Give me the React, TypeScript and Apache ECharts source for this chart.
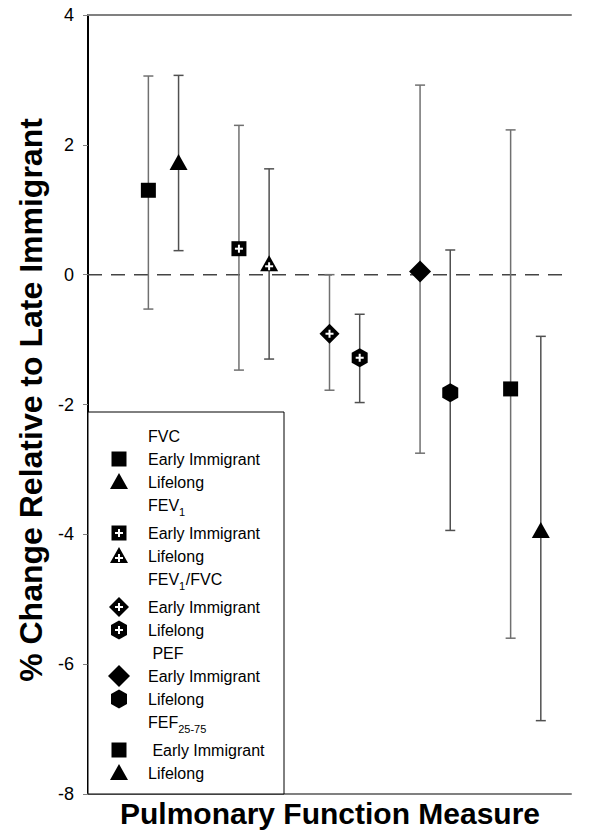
import React, { useEffect, useRef } from 'react';
import * as echarts from 'echarts';

// ---------- data ----------
const measures = ['FVC', 'FEV1', 'FEV1/FVC', 'PEF', 'FEF25-75'];
const groups = ['Early Immigrant', 'Lifelong'];
const earlyMean = [1.30, 0.40, -0.91, 0.05, -1.76];
const earlyLow = [-0.53, -1.47, -1.78, -2.75, -5.60];
const earlyHigh = [3.06, 2.30, 0.00, 2.92, 2.23];
const lifeMean = [1.72, 0.16, -1.28, -1.82, -3.95];
const lifeLow = [0.37, -1.30, -1.97, -3.94, -6.87];
const lifeHigh = [3.07, 1.63, -0.61, 0.38, -0.95];
const yMin = -8;
const yMax = 4;
const yStep = 2;
const earlyShapes = ['square', 'squarePlus', 'diamondPlus', 'diamond', 'square'];
const lifeShapes = ['triangle', 'trianglePlus', 'hexagonPlus', 'hexagon', 'triangle'];

// legend rows: header (with optional subscript) or item with a symbol
const legendRows: any[] = [
  { parts: [['FVC', false]] },
  { shape: 'square', text: 'Early Immigrant' },
  { shape: 'triangle', text: 'Lifelong' },
  { parts: [['FEV', false], ['1', true]], gapAfter: true },
  { shape: 'squarePlus', text: 'Early Immigrant' },
  { shape: 'trianglePlus', text: 'Lifelong' },
  { parts: [['FEV', false], ['1', true], ['/FVC', false]], gapAfter: true },
  { shape: 'diamondPlus', text: 'Early Immigrant' },
  { shape: 'hexagonPlus', text: 'Lifelong' },
  { parts: [[' PEF', false]] },
  { shape: 'diamond', text: 'Early Immigrant' },
  { shape: 'hexagon', text: 'Lifelong' },
  { parts: [['FEF', false], ['25-75', true]], gapAfter: true },
  { shape: 'square', text: ' Early Immigrant' },
  { shape: 'triangle', text: 'Lifelong' },
];

const FONT = '"Liberation Sans", Arial, Helvetica, sans-serif';

function shapeEls(kind: string, cx: number, cy: number, z?: number): any[] {
  const els: any[] = [];
  const fill = '#000';
  const base = kind.replace('Plus', '');
  const plus = kind.endsWith('Plus');
  let pcy = cy;
  if (base === 'square') {
    els.push({ type: 'rect', shape: { x: cx - 7.5, y: cy - 7.5, width: 15, height: 15 }, style: { fill } });
  } else if (base === 'triangle') {
    els.push({ type: 'polygon', shape: { points: [[cx, cy - 9], [cx + 9, cy + 7], [cx - 9, cy + 7]] }, style: { fill } });
    pcy = cy + 2;
  } else if (base === 'diamond') {
    const r = plus ? 10 : 11;
    els.push({ type: 'polygon', shape: { points: [[cx, cy - r], [cx + r, cy], [cx, cy + r], [cx - r, cy]] }, style: { fill } });
  } else if (base === 'hexagon') {
    els.push({
      type: 'polygon',
      shape: { points: [[cx, cy - 9.5], [cx + 8, cy - 5], [cx + 8, cy + 5], [cx, cy + 9.5], [cx - 8, cy + 5], [cx - 8, cy - 5]] },
      style: { fill },
    });
  }
  if (plus) {
    els.push({ type: 'rect', shape: { x: cx - 4, y: pcy - 1, width: 8, height: 2 }, style: { fill: '#fff' } });
    els.push({ type: 'rect', shape: { x: cx - 1, y: pcy - 4, width: 2, height: 8 }, style: { fill: '#fff' } });
  }
  if (z !== undefined) els.forEach((e) => (e.z = z));
  return els;
}

function measureText(t: string, size: number): number {
  const c = document.createElement('canvas');
  const ctx = c.getContext('2d')!;
  ctx.font = `${size}px ${FONT}`;
  return ctx.measureText(t).width;
}

function makeRender(shapes: string[], color: string) {
  return (params: any, api: any) => {
    const x = api.value(0);
    const y = api.value(1);
    const lo = api.value(2);
    const hi = api.value(3);
    const m = api.value(4);
    const p = api.coord([x, y]);
    const pl = api.coord([x, lo]);
    const ph = api.coord([x, hi]);
    const ls = { stroke: color, lineWidth: 1.5 };
    const children: any[] = [
      { type: 'line', shape: { x1: ph[0], y1: ph[1], x2: pl[0], y2: pl[1] }, style: ls },
      { type: 'line', shape: { x1: ph[0] - 5, y1: ph[1], x2: ph[0] + 5, y2: ph[1] }, style: ls },
      { type: 'line', shape: { x1: pl[0] - 5, y1: pl[1], x2: pl[0] + 5, y2: pl[1] }, style: ls },
      ...shapeEls(shapes[m], p[0], p[1]),
    ];
    return { type: 'group', children };
  };
}

export default function App() {
  const ref = useRef<HTMLDivElement>(null);
  useEffect(() => {
    if (!ref.current) return;
    const chart = echarts.init(ref.current, undefined, { renderer: 'svg' });
    const xMax = measures.length + 1 / 3;
    const earlyData = measures.map((_, m) => [m + 2 / 3, earlyMean[m], earlyLow[m], earlyHigh[m], m]);
    const lifeData = measures.map((_, m) => [m + 1, lifeMean[m], lifeLow[m], lifeHigh[m], m]);

    // legend graphics
    const graphics: any[] = [];
    const boxTop = 412;
    graphics.push({
      type: 'rect',
      z: 100,
      shape: { x: 88, y: boxTop, width: 196, height: 382 },
      style: { fill: '#fff', stroke: '#000', lineWidth: 1 },
    });
    let extra = 0;
    legendRows.forEach((row, i) => {
      const y = 436 + i * 23 + extra;
      if (row.parts) {
        let x = 148;
        row.parts.forEach(([t, sub]: [string, boolean]) => {
          const size = sub ? 11 : 16;
          graphics.push({
            type: 'text',
            z: 101,
            x,
            y: sub ? y + 7 : y,
            style: { text: t, font: `${size}px ${FONT}`, fill: '#000', verticalAlign: 'middle' },
          });
          x += measureText(t, size) + (sub ? 0.5 : 0);
        });
      } else {
        graphics.push(...shapeEls(row.shape, 119, y, 101));
        graphics.push({
          type: 'text',
          z: 101,
          x: 148,
          y,
          style: { text: row.text, font: `16px ${FONT}`, fill: '#000', verticalAlign: 'middle' },
        });
      }
      if (row.gapAfter) extra += 5;
    });
    graphics.push({
      type: 'text',
      z: 101,
      x: 31,
      y: 400,
      rotation: Math.PI / 2,
      style: {
        text: '% Change Relative to Late Immigrant',
        font: `bold 32px ${FONT}`,
        fill: '#000',
        align: 'center',
        verticalAlign: 'middle',
      },
    });
    graphics.push({
      type: 'text',
      z: 101,
      x: 330,
      y: 813,
      style: {
        text: 'Pulmonary Function Measure',
        font: `bold 30px ${FONT}`,
        fill: '#000',
        align: 'center',
        verticalAlign: 'middle',
      },
    });

    const hiddenX = {
      type: 'value',
      min: 0,
      max: xMax,
      axisTick: { show: false },
      axisLabel: { show: false },
      splitLine: { show: false },
    };
    chart.setOption({
      animation: false,
      grid: { left: 88, right: 29, top: 15, bottom: 46 },
      xAxis: [
        { ...hiddenX, position: 'bottom', axisLine: { show: true, onZero: false, lineStyle: { color: '#808080', width: 2 } } },
        { ...hiddenX, position: 'top', axisLine: { show: true, onZero: false, lineStyle: { color: '#808080', width: 2 } } },
      ],
      yAxis: [
        {
          type: 'value',
          min: yMin,
          max: yMax,
          interval: yStep,
          position: 'left',
          axisLine: { show: true, lineStyle: { color: '#808080', width: 1.5 } },
          axisTick: { show: true, length: 5, lineStyle: { color: '#808080', width: 1 } },
          axisLabel: { color: '#000', fontSize: 18, fontFamily: FONT, margin: 14 },
          splitLine: { show: false },
        },
        {
          type: 'value',
          min: yMin,
          max: yMax,
          interval: yStep,
          position: 'right',
          axisLine: { show: true, lineStyle: { color: '#000', width: 2 } },
          axisTick: { show: false },
          axisLabel: { show: false },
          splitLine: { show: false },
        },
      ],
      series: [
        {
          type: 'line',
          data: [[0, 0], [xMax, 0]],
          showSymbol: false,
          symbol: 'none',
          silent: true,
          lineStyle: { color: '#444', width: 1.5, type: [14, 9] },
          z: 1,
        },
        {
          name: groups[0],
          type: 'custom',
          renderItem: makeRender(earlyShapes, '#707070'),
          data: earlyData,
          encode: { x: 0, y: 1 },
          z: 3,
        },
        {
          name: groups[1],
          type: 'custom',
          renderItem: makeRender(lifeShapes, '#505050'),
          data: lifeData,
          encode: { x: 0, y: 1 },
          z: 3,
        },
      ],
      graphic: graphics,
    });
    return () => chart.dispose();
  }, []);
  return <div ref={ref} style={{ position: 'fixed', left: 0, top: 0, width: 600, height: 840, background: '#fff' }} />;
}
